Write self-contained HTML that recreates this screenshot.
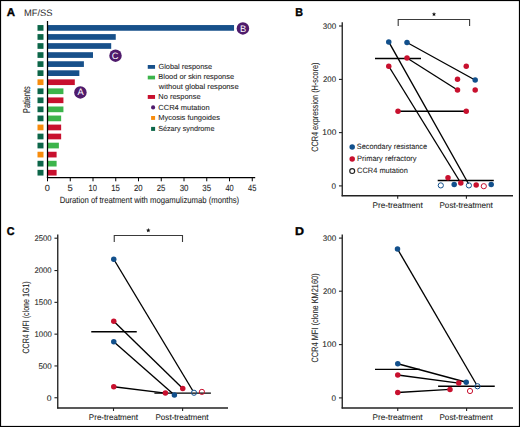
<!DOCTYPE html>
<html><head><meta charset="utf-8"><style>
html,body{margin:0;padding:0;background:#fff;}
body{width:520px;height:427px;overflow:hidden;}
svg{display:block;font-family:"Liberation Sans", sans-serif;text-rendering:geometricPrecision;}
</style></head><body>
<svg width="520" height="427" viewBox="0 0 520 427">
<rect x="0.55" y="0.55" width="518.9" height="425.9" fill="none" stroke="#000" stroke-width="1.1"/>
<text id="A_let" x="6.81" y="16.0" font-size="11.3" fill="#000" stroke="#000" stroke-width="0.35" font-weight="bold" textLength="8.29" lengthAdjust="spacingAndGlyphs">A</text>
<text id="A_mfss" x="23.89" y="16" font-size="9.4" fill="#2a2a2a" stroke="#2a2a2a" stroke-width="0" font-weight="normal" textLength="28.62" lengthAdjust="spacingAndGlyphs">MF/SS</text>
<rect x="48" y="25.05" width="186.05" height="5.7" fill="#17508a"/>
<rect x="37.5" y="25.05" width="6" height="5.7" fill="#0c6649"/>
<rect x="48" y="34.1" width="67.75" height="5.7" fill="#17508a"/>
<rect x="37.5" y="34.1" width="6" height="5.7" fill="#0c6649"/>
<rect x="48" y="43.15" width="63.2" height="5.7" fill="#17508a"/>
<rect x="37.5" y="43.15" width="6" height="5.7" fill="#0c6649"/>
<rect x="48" y="52.2" width="45.0" height="5.7" fill="#17508a"/>
<rect x="37.5" y="52.2" width="6" height="5.7" fill="#0c6649"/>
<rect x="48" y="61.25" width="35.9" height="5.7" fill="#17508a"/>
<rect x="37.5" y="61.25" width="6" height="5.7" fill="#0c6649"/>
<rect x="48" y="70.3" width="31.35" height="5.7" fill="#17508a"/>
<rect x="37.5" y="70.3" width="6" height="5.7" fill="#0c6649"/>
<rect x="48" y="79.35" width="26.8" height="5.7" fill="#c8102e"/>
<rect x="37.5" y="79.35" width="6" height="5.7" fill="#f88c0c"/>
<rect x="48" y="88.4" width="15.42" height="5.7" fill="#3cb44b"/>
<rect x="37.5" y="88.4" width="6" height="5.7" fill="#0c6649"/>
<rect x="48" y="97.45" width="15.42" height="5.7" fill="#c8102e"/>
<rect x="37.5" y="97.45" width="6" height="5.7" fill="#0c6649"/>
<rect x="48" y="106.5" width="15.42" height="5.7" fill="#3cb44b"/>
<rect x="37.5" y="106.5" width="6" height="5.7" fill="#0c6649"/>
<rect x="48" y="115.55" width="13.15" height="5.7" fill="#3cb44b"/>
<rect x="37.5" y="115.55" width="6" height="5.7" fill="#0c6649"/>
<rect x="48" y="124.6" width="13.15" height="5.7" fill="#c8102e"/>
<rect x="37.5" y="124.6" width="6" height="5.7" fill="#f88c0c"/>
<rect x="48" y="133.65" width="13.15" height="5.7" fill="#c8102e"/>
<rect x="37.5" y="133.65" width="6" height="5.7" fill="#0c6649"/>
<rect x="48" y="142.7" width="10.88" height="5.7" fill="#3cb44b"/>
<rect x="37.5" y="142.7" width="6" height="5.7" fill="#0c6649"/>
<rect x="48" y="151.75" width="8.6" height="5.7" fill="#c8102e"/>
<rect x="37.5" y="151.75" width="6" height="5.7" fill="#f88c0c"/>
<rect x="48" y="160.8" width="8.6" height="5.7" fill="#3cb44b"/>
<rect x="37.5" y="160.8" width="6" height="5.7" fill="#0c6649"/>
<rect x="48" y="169.85" width="8.6" height="5.7" fill="#c8102e"/>
<rect x="37.5" y="169.85" width="6" height="5.7" fill="#0c6649"/>
<line x1="47.5" y1="21" x2="47.5" y2="178.1" stroke="#000" stroke-width="1.25"/>
<line x1="46.9" y1="177.6" x2="255.2" y2="177.6" stroke="#000" stroke-width="1.25"/>
<line x1="47.5" y1="177.6" x2="47.5" y2="181.3" stroke="#000" stroke-width="1.0"/>
<text id="A_t0" x="44.85" y="191" font-size="8.9" fill="#262626" stroke="#262626" stroke-width="0.08" font-weight="normal" textLength="5.12" lengthAdjust="spacingAndGlyphs">0</text>
<line x1="70.25" y1="177.6" x2="70.25" y2="181.3" stroke="#000" stroke-width="1.0"/>
<text id="A_t1" x="67.52" y="191" font-size="8.9" fill="#262626" stroke="#262626" stroke-width="0.08" font-weight="normal" textLength="5.25" lengthAdjust="spacingAndGlyphs">5</text>
<line x1="93.0" y1="177.6" x2="93.0" y2="181.3" stroke="#000" stroke-width="1.0"/>
<text id="A_t2" x="88.46" y="191" font-size="8.9" fill="#262626" stroke="#262626" stroke-width="0.08" font-weight="normal" textLength="8.47" lengthAdjust="spacingAndGlyphs">10</text>
<line x1="115.75" y1="177.6" x2="115.75" y2="181.3" stroke="#000" stroke-width="1.0"/>
<text id="A_t3" x="111.28" y="191" font-size="8.9" fill="#262626" stroke="#262626" stroke-width="0.08" font-weight="normal" textLength="8.70" lengthAdjust="spacingAndGlyphs">15</text>
<line x1="138.5" y1="177.6" x2="138.5" y2="181.3" stroke="#000" stroke-width="1.0"/>
<text id="A_t4" x="134.01" y="191" font-size="8.9" fill="#262626" stroke="#262626" stroke-width="0.08" font-weight="normal" textLength="8.63" lengthAdjust="spacingAndGlyphs">20</text>
<line x1="161.25" y1="177.6" x2="161.25" y2="181.3" stroke="#000" stroke-width="1.0"/>
<text id="A_t5" x="156.75" y="191" font-size="8.9" fill="#262626" stroke="#262626" stroke-width="0.08" font-weight="normal" textLength="8.63" lengthAdjust="spacingAndGlyphs">25</text>
<line x1="184.0" y1="177.6" x2="184.0" y2="181.3" stroke="#000" stroke-width="1.0"/>
<text id="A_t6" x="179.66" y="191" font-size="8.9" fill="#262626" stroke="#262626" stroke-width="0.08" font-weight="normal" textLength="8.84" lengthAdjust="spacingAndGlyphs">30</text>
<line x1="206.75" y1="177.6" x2="206.75" y2="181.3" stroke="#000" stroke-width="1.0"/>
<text id="A_t7" x="202.33" y="191" font-size="8.9" fill="#262626" stroke="#262626" stroke-width="0.08" font-weight="normal" textLength="8.75" lengthAdjust="spacingAndGlyphs">35</text>
<line x1="229.5" y1="177.6" x2="229.5" y2="181.3" stroke="#000" stroke-width="1.0"/>
<text id="A_t8" x="225.41" y="191" font-size="8.9" fill="#262626" stroke="#262626" stroke-width="0.08" font-weight="normal" textLength="8.31" lengthAdjust="spacingAndGlyphs">40</text>
<line x1="252.25" y1="177.6" x2="252.25" y2="181.3" stroke="#000" stroke-width="1.0"/>
<text id="A_t9" x="247.98" y="191" font-size="8.9" fill="#262626" stroke="#262626" stroke-width="0.08" font-weight="normal" textLength="8.35" lengthAdjust="spacingAndGlyphs">45</text>
<text id="A_title" x="59.64" y="203" font-size="8.9" fill="#262626" stroke="#262626" stroke-width="0.08" font-weight="normal" textLength="179.51" lengthAdjust="spacingAndGlyphs">Duration of treatment with mogamulizumab (months)</text>
<text id="A_pat" x="0" y="0" transform="translate(30.0,113.05) rotate(-90)" font-size="10.0" fill="#262626" stroke="#262626" stroke-width="0.08" textLength="26.72" lengthAdjust="spacingAndGlyphs">Patients</text>
<circle cx="242.9" cy="28.4" r="6.25" fill="#4f1b6c"/>
<text x="243.20000000000002" y="32" font-size="9.3" text-anchor="middle" fill="#fff">B</text>
<circle cx="115.5" cy="55.7" r="6.25" fill="#4f1b6c"/>
<text x="115.1" y="59" font-size="9.3" text-anchor="middle" fill="#fff">C</text>
<circle cx="80.4" cy="92.4" r="6.25" fill="#4f1b6c"/>
<text x="80.5" y="95" font-size="9.3" text-anchor="middle" fill="#fff">A</text>
<rect x="147.75" y="65.0" width="7.3" height="3.8" fill="#17508a"/>
<rect x="147.75" y="75.7" width="7.3" height="3.7" fill="#3cb44b"/>
<rect x="147.75" y="95.0" width="7.3" height="3.9" fill="#c8102e"/>
<circle cx="153.1" cy="107.4" r="2.05" fill="#4f1b6c"/>
<rect x="151.1" y="116.0" width="4.0" height="3.9" fill="#f88c0c"/>
<rect x="151.1" y="126.9" width="4.0" height="4.0" fill="#0c6649"/>
<text id="L1" x="158.45" y="69" font-size="7.3" fill="#262626" stroke="#262626" stroke-width="0.08" font-weight="normal" textLength="53.66" lengthAdjust="spacingAndGlyphs">Global response</text>
<text id="L2" x="158.33" y="79" font-size="7.3" fill="#262626" stroke="#262626" stroke-width="0.08" font-weight="normal" textLength="75.79" lengthAdjust="spacingAndGlyphs">Blood or skin response</text>
<text id="L3" x="158.80" y="89" font-size="7.3" fill="#262626" stroke="#262626" stroke-width="0.08" font-weight="normal" textLength="79.81" lengthAdjust="spacingAndGlyphs">without global response</text>
<text id="L4" x="158.33" y="99" font-size="7.3" fill="#262626" stroke="#262626" stroke-width="0.08" font-weight="normal" textLength="42.22" lengthAdjust="spacingAndGlyphs">No response</text>
<text id="L5" x="158.37" y="110" font-size="7.3" fill="#262626" stroke="#262626" stroke-width="0.08" font-weight="normal" textLength="51.19" lengthAdjust="spacingAndGlyphs">CCR4 mutation</text>
<text id="L6" x="158.29" y="120" font-size="7.3" fill="#262626" stroke="#262626" stroke-width="0.08" font-weight="normal" textLength="61.64" lengthAdjust="spacingAndGlyphs">Mycosis fungoides</text>
<text id="L7" x="158.15" y="131" font-size="7.3" fill="#262626" stroke="#262626" stroke-width="0.08" font-weight="normal" textLength="56.27" lengthAdjust="spacingAndGlyphs">Sézary syndrome</text>
<text id="B_let" x="295.16" y="16.0" font-size="11.3" fill="#000" stroke="#000" stroke-width="0.35" font-weight="bold" textLength="7.77" lengthAdjust="spacingAndGlyphs">B</text>
<line x1="342.25" y1="22.25" x2="342.25" y2="196.29999999999998" stroke="#222" stroke-width="1.35"/>
<line x1="341.65" y1="195.7" x2="513" y2="195.7" stroke="#222" stroke-width="1.35"/>
<line x1="338.95" y1="185.9" x2="342.25" y2="185.9" stroke="#222" stroke-width="1.1"/>
<text id="B_tk0" x="331.58" y="189" font-size="8.2" fill="#262626" stroke="#262626" stroke-width="0.08" font-weight="normal" textLength="4.50" lengthAdjust="spacingAndGlyphs">0</text>
<line x1="338.95" y1="132.6" x2="342.25" y2="132.6" stroke="#222" stroke-width="1.1"/>
<text id="B_tk100" x="322.39" y="135" font-size="8.2" fill="#262626" stroke="#262626" stroke-width="0.08" font-weight="normal" textLength="13.97" lengthAdjust="spacingAndGlyphs">100</text>
<line x1="338.95" y1="79.4" x2="342.25" y2="79.4" stroke="#222" stroke-width="1.1"/>
<text id="B_tk200" x="323.03" y="82" font-size="8.2" fill="#262626" stroke="#262626" stroke-width="0.08" font-weight="normal" textLength="13.02" lengthAdjust="spacingAndGlyphs">200</text>
<line x1="338.95" y1="26.0" x2="342.25" y2="26.0" stroke="#222" stroke-width="1.1"/>
<text id="B_tk300" x="322.79" y="29" font-size="8.2" fill="#262626" stroke="#262626" stroke-width="0.08" font-weight="normal" textLength="13.41" lengthAdjust="spacingAndGlyphs">300</text>
<line x1="397.7" y1="195.7" x2="397.7" y2="198.7" stroke="#222" stroke-width="1.1"/>
<line x1="466.4" y1="195.7" x2="466.4" y2="198.7" stroke="#222" stroke-width="1.1"/>
<text id="B_pre" x="372.54" y="208" font-size="8.3" fill="#262626" stroke="#262626" stroke-width="0.08" font-weight="normal" textLength="50.19" lengthAdjust="spacingAndGlyphs">Pre-treatment</text>
<text id="B_post" x="439.45" y="208" font-size="8.3" fill="#262626" stroke="#262626" stroke-width="0.08" font-weight="normal" textLength="53.37" lengthAdjust="spacingAndGlyphs">Post-treatment</text>
<text id="B_ylab" x="0" y="0" transform="translate(317.8,151.79) rotate(-90)" font-size="9.2" fill="#262626" stroke="#262626" stroke-width="0.08" textLength="89.25" lengthAdjust="spacingAndGlyphs">CCR4 expression (H-score)</text>
<path d="M398.2 25.9 V19.5 H469.6 V25.9" fill="none" stroke="#3a3a3a" stroke-width="1.1"/>
<polygon points="434.00,12.00 434.61,13.46 436.19,13.59 434.98,14.62 435.35,16.16 434.00,15.34 432.65,16.16 433.02,14.62 431.81,13.59 433.39,13.46" fill="#111"/>
<line x1="407" y1="42.5" x2="475" y2="80" stroke="#000" stroke-width="1.35"/>
<line x1="407" y1="58" x2="457.5" y2="90" stroke="#000" stroke-width="1.35"/>
<line x1="398" y1="111.25" x2="466.25" y2="111.25" stroke="#000" stroke-width="1.35"/>
<line x1="388.75" y1="66.25" x2="460.8" y2="183" stroke="#000" stroke-width="1.35"/>
<line x1="388.75" y1="41.9" x2="468.47" y2="183.74" stroke="#000" stroke-width="1.35"/>
<line x1="375" y1="58.45" x2="421" y2="58.45" stroke="#000" stroke-width="1.35"/>
<line x1="437.7" y1="180.5" x2="493.8" y2="180.5" stroke="#000" stroke-width="1.35"/>
<circle cx="388.75" cy="41.9" r="2.75" fill="#12508c"/>
<circle cx="407" cy="42.5" r="2.75" fill="#12508c"/>
<circle cx="407" cy="58" r="2.75" fill="#c8102e"/>
<circle cx="388.75" cy="66.25" r="2.75" fill="#c8102e"/>
<circle cx="398" cy="111.25" r="2.75" fill="#c8102e"/>
<circle cx="466.25" cy="66.25" r="2.75" fill="#c8102e"/>
<circle cx="457.5" cy="79.25" r="2.75" fill="#c8102e"/>
<circle cx="475.2" cy="80" r="2.75" fill="#12508c"/>
<circle cx="457.5" cy="90" r="2.75" fill="#c8102e"/>
<circle cx="475.2" cy="90" r="2.75" fill="#c8102e"/>
<circle cx="466.25" cy="111.25" r="2.75" fill="#c8102e"/>
<circle cx="448" cy="177.7" r="2.75" fill="#c8102e"/>
<circle cx="454.2" cy="184.6" r="2.75" fill="#12508c"/>
<circle cx="460.8" cy="183" r="2.75" fill="#c8102e"/>
<circle cx="476.2" cy="185" r="2.75" fill="#c8102e"/>
<circle cx="491.2" cy="184.6" r="2.75" fill="#12508c"/>
<circle cx="440.8" cy="185.4" r="2.6" fill="none" stroke="#12508c" stroke-width="1.0"/>
<circle cx="468.9" cy="185.4" r="2.6" fill="none" stroke="#12508c" stroke-width="1.0"/>
<circle cx="483.8" cy="186.2" r="2.6" fill="none" stroke="#c8102e" stroke-width="1.0"/>
<circle cx="352.2" cy="146.9" r="2.75" fill="#12508c"/>
<circle cx="352.2" cy="159.0" r="2.75" fill="#c8102e"/>
<circle cx="352.2" cy="171.05" r="2.45" fill="none" stroke="#222" stroke-width="1.2"/>
<text id="BL1" x="356.87" y="149" font-size="7.7" fill="#262626" stroke="#262626" stroke-width="0.08" font-weight="normal" textLength="70.12" lengthAdjust="spacingAndGlyphs">Secondary resistance</text>
<text id="BL2" x="356.97" y="161" font-size="7.7" fill="#262626" stroke="#262626" stroke-width="0.08" font-weight="normal" textLength="59.63" lengthAdjust="spacingAndGlyphs">Primary refractory</text>
<text id="BL3" x="357.12" y="173" font-size="7.7" fill="#262626" stroke="#262626" stroke-width="0.08" font-weight="normal" textLength="50.75" lengthAdjust="spacingAndGlyphs">CCR4 mutation</text>
<text id="C_let" x="6.66" y="235.0" font-size="11.3" fill="#000" stroke="#000" stroke-width="0.35" font-weight="bold" textLength="7.79" lengthAdjust="spacingAndGlyphs">C</text>
<line x1="57.75" y1="234.4" x2="57.75" y2="408.6" stroke="#222" stroke-width="1.35"/>
<line x1="57.15" y1="408.0" x2="228" y2="408.0" stroke="#222" stroke-width="1.35"/>
<line x1="54.45" y1="397.75" x2="57.75" y2="397.75" stroke="#222" stroke-width="1.1"/>
<text id="C_tk0" x="46.87" y="401" font-size="8.2" fill="#262626" stroke="#262626" stroke-width="0.08" font-weight="normal" textLength="4.79" lengthAdjust="spacingAndGlyphs">0</text>
<line x1="54.45" y1="365.95" x2="57.75" y2="365.95" stroke="#222" stroke-width="1.1"/>
<text id="C_tk500" x="38.46" y="369" font-size="8.2" fill="#262626" stroke="#262626" stroke-width="0.08" font-weight="normal" textLength="13.26" lengthAdjust="spacingAndGlyphs">500</text>
<line x1="54.45" y1="334.15" x2="57.75" y2="334.15" stroke="#222" stroke-width="1.1"/>
<text id="C_tk1000" x="34.53" y="337" font-size="8.2" fill="#262626" stroke="#262626" stroke-width="0.08" font-weight="normal" textLength="17.25" lengthAdjust="spacingAndGlyphs">1000</text>
<line x1="54.45" y1="302.35" x2="57.75" y2="302.35" stroke="#222" stroke-width="1.1"/>
<text id="C_tk1500" x="34.53" y="305" font-size="8.2" fill="#262626" stroke="#262626" stroke-width="0.08" font-weight="normal" textLength="17.25" lengthAdjust="spacingAndGlyphs">1500</text>
<line x1="54.45" y1="270.55" x2="57.75" y2="270.55" stroke="#222" stroke-width="1.1"/>
<text id="C_tk2000" x="34.52" y="273" font-size="8.2" fill="#262626" stroke="#262626" stroke-width="0.08" font-weight="normal" textLength="17.09" lengthAdjust="spacingAndGlyphs">2000</text>
<line x1="54.45" y1="238.2" x2="57.75" y2="238.2" stroke="#222" stroke-width="1.1"/>
<text id="C_tk2500" x="34.52" y="241" font-size="8.2" fill="#262626" stroke="#262626" stroke-width="0.08" font-weight="normal" textLength="17.09" lengthAdjust="spacingAndGlyphs">2500</text>
<line x1="113.5" y1="408.0" x2="113.5" y2="411.0" stroke="#222" stroke-width="1.1"/>
<line x1="182.6" y1="408.0" x2="182.6" y2="411.0" stroke="#222" stroke-width="1.1"/>
<text id="C_pre" x="88.86" y="420" font-size="8.3" fill="#262626" stroke="#262626" stroke-width="0.08" font-weight="normal" textLength="49.13" lengthAdjust="spacingAndGlyphs">Pre-treatment</text>
<text id="C_post" x="155.44" y="420" font-size="8.3" fill="#262626" stroke="#262626" stroke-width="0.08" font-weight="normal" textLength="53.17" lengthAdjust="spacingAndGlyphs">Post-treatment</text>
<text id="C_ylab" x="0" y="0" transform="translate(29.3,353.55) rotate(-90)" font-size="9.2" fill="#262626" stroke="#262626" stroke-width="0.08" textLength="72.17" lengthAdjust="spacingAndGlyphs">CCR4 MFI (clone 1G1)</text>
<path d="M114.25 242 V235.5 H182.5 V242" fill="none" stroke="#3a3a3a" stroke-width="1.1"/>
<polygon points="148.30,228.10 148.91,229.56 150.49,229.69 149.28,230.72 149.65,232.26 148.30,231.44 146.95,232.26 147.32,230.72 146.11,229.69 147.69,229.56" fill="#111"/>
<line x1="113.75" y1="259.25" x2="192.66" y2="390.52" stroke="#000" stroke-width="1.35"/>
<line x1="113.75" y1="321.25" x2="182.75" y2="388.5" stroke="#000" stroke-width="1.35"/>
<line x1="113.75" y1="341.75" x2="174.4" y2="395" stroke="#000" stroke-width="1.35"/>
<line x1="113.75" y1="386.75" x2="165.4" y2="393.1" stroke="#000" stroke-width="1.35"/>
<line x1="91.25" y1="331.75" x2="136.75" y2="331.75" stroke="#000" stroke-width="1.35"/>
<line x1="154.4" y1="393.1" x2="210.9" y2="393.1" stroke="#000" stroke-width="1.35"/>
<circle cx="113.75" cy="259.25" r="2.75" fill="#12508c"/>
<circle cx="113.75" cy="321.25" r="2.75" fill="#c8102e"/>
<circle cx="113.75" cy="341.75" r="2.75" fill="#12508c"/>
<circle cx="113.75" cy="386.75" r="2.75" fill="#c8102e"/>
<circle cx="165.4" cy="393.1" r="2.75" fill="#c8102e"/>
<circle cx="174.4" cy="395" r="2.75" fill="#12508c"/>
<circle cx="182.75" cy="388.5" r="2.75" fill="#c8102e"/>
<circle cx="194" cy="392.75" r="2.6" fill="none" stroke="#12508c" stroke-width="1.0"/>
<circle cx="201.9" cy="391.9" r="2.6" fill="none" stroke="#c8102e" stroke-width="1.0"/>
<text id="D_let" x="295.06" y="235.0" font-size="11.3" fill="#000" stroke="#000" stroke-width="0.35" font-weight="bold" textLength="9.02" lengthAdjust="spacingAndGlyphs">D</text>
<line x1="342.25" y1="234.4" x2="342.25" y2="408.6" stroke="#222" stroke-width="1.35"/>
<line x1="341.65" y1="408.0" x2="513" y2="408.0" stroke="#222" stroke-width="1.35"/>
<line x1="338.95" y1="397.9" x2="342.25" y2="397.9" stroke="#222" stroke-width="1.1"/>
<text id="D_tk0" x="331.58" y="401" font-size="8.2" fill="#262626" stroke="#262626" stroke-width="0.08" font-weight="normal" textLength="4.50" lengthAdjust="spacingAndGlyphs">0</text>
<line x1="338.95" y1="344.6" x2="342.25" y2="344.6" stroke="#222" stroke-width="1.1"/>
<text id="D_tk100" x="322.39" y="347" font-size="8.2" fill="#262626" stroke="#262626" stroke-width="0.08" font-weight="normal" textLength="13.97" lengthAdjust="spacingAndGlyphs">100</text>
<line x1="338.95" y1="291.2" x2="342.25" y2="291.2" stroke="#222" stroke-width="1.1"/>
<text id="D_tk200" x="323.03" y="294" font-size="8.2" fill="#262626" stroke="#262626" stroke-width="0.08" font-weight="normal" textLength="13.02" lengthAdjust="spacingAndGlyphs">200</text>
<line x1="338.95" y1="238.1" x2="342.25" y2="238.1" stroke="#222" stroke-width="1.1"/>
<text id="D_tk300" x="322.79" y="241" font-size="8.2" fill="#262626" stroke="#262626" stroke-width="0.08" font-weight="normal" textLength="13.41" lengthAdjust="spacingAndGlyphs">300</text>
<line x1="397.75" y1="408.0" x2="397.75" y2="411.0" stroke="#222" stroke-width="1.1"/>
<line x1="466.6" y1="408.0" x2="466.6" y2="411.0" stroke="#222" stroke-width="1.1"/>
<text id="D_pre" x="372.47" y="420" font-size="8.3" fill="#262626" stroke="#262626" stroke-width="0.08" font-weight="normal" textLength="50.11" lengthAdjust="spacingAndGlyphs">Pre-treatment</text>
<text id="D_post" x="439.45" y="420" font-size="8.3" fill="#262626" stroke="#262626" stroke-width="0.08" font-weight="normal" textLength="53.37" lengthAdjust="spacingAndGlyphs">Post-treatment</text>
<text id="D_ylab" x="0" y="0" transform="translate(318.1,362.49) rotate(-90)" font-size="9.2" fill="#262626" stroke="#262626" stroke-width="0.08" textLength="89.15" lengthAdjust="spacingAndGlyphs">CCR4 MFI (clone KM2160)</text>
<line x1="397.5" y1="249" x2="476.19" y2="384.0" stroke="#000" stroke-width="1.35"/>
<line x1="397.75" y1="363.75" x2="466.25" y2="382.25" stroke="#000" stroke-width="1.35"/>
<line x1="397.75" y1="375" x2="458.75" y2="383.1" stroke="#000" stroke-width="1.35"/>
<line x1="397.75" y1="392.5" x2="450" y2="389.4" stroke="#000" stroke-width="1.35"/>
<line x1="375" y1="369.4" x2="420" y2="369.4" stroke="#000" stroke-width="1.35"/>
<line x1="438.1" y1="386.25" x2="494.75" y2="386.25" stroke="#000" stroke-width="1.35"/>
<circle cx="397.5" cy="249" r="2.75" fill="#12508c"/>
<circle cx="397.75" cy="363.75" r="2.75" fill="#12508c"/>
<circle cx="397.75" cy="375" r="2.75" fill="#c8102e"/>
<circle cx="397.75" cy="392.5" r="2.75" fill="#c8102e"/>
<circle cx="450" cy="389.4" r="2.75" fill="#c8102e"/>
<circle cx="458.75" cy="383.1" r="2.75" fill="#c8102e"/>
<circle cx="466.25" cy="382.25" r="2.75" fill="#12508c"/>
<circle cx="477.5" cy="386.25" r="2.6" fill="none" stroke="#12508c" stroke-width="1.0"/>
<circle cx="470" cy="391" r="2.6" fill="none" stroke="#c8102e" stroke-width="1.0"/>
</svg>
</body></html>
